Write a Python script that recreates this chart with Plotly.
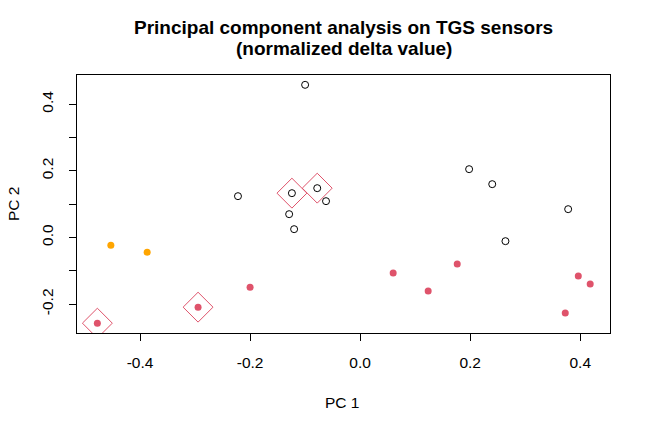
import plotly.graph_objects as go

# Data
pc1_black = [-0.100, -0.222, -0.124, -0.078, -0.062, -0.129, -0.120, 0.198, 0.240, 0.378, 0.264]
pc2_black = [0.458, 0.124, 0.133, 0.148, 0.109, 0.070, 0.025, 0.205, 0.160, 0.085, -0.011]

pc1_orange = [-0.453, -0.387]
pc2_orange = [-0.023, -0.044]

pc1_red = [-0.4775, -0.2945, -0.200, 0.060, 0.1236, 0.1764, 0.3727, 0.3964, 0.418]
pc2_red = [-0.257, -0.209, -0.149, -0.1065, -0.1605, -0.0795, -0.2265, -0.1155, -0.1395]

# highlighted points (diamonds)
pc1_hl = [-0.124, -0.078, -0.4775, -0.2945]
pc2_hl = [0.133, 0.148, -0.257, -0.209]

x_ticks = [-0.4, -0.2, 0.0, 0.2, 0.4]
x_ticklabels = ["-0.4", "-0.2", "0.0", "0.2", "0.4"]
y_ticks = [-0.2, -0.1, 0.0, 0.1, 0.2, 0.3, 0.4]
y_ticklabels = ["-0.2", "", "0.0", "", "0.2", "", "0.4"]

title_line1 = "Principal component analysis on TGS sensors"
title_line2 = "(normalized delta value)"
x_label = "PC 1"
y_label = "PC 2"

RED = "#DF536B"
ORANGE = "#FFA500"
FONT = "Liberation Sans, Arial, sans-serif"
TICK_SIZE = 15.5

fig = go.Figure()
fig.add_trace(go.Scatter(x=pc1_black, y=pc2_black, mode="markers",
                         marker=dict(symbol="circle-open", size=7, color="black",
                                     line=dict(width=1, color="black")),
                         cliponaxis=False, showlegend=False))
fig.add_trace(go.Scatter(x=pc1_orange, y=pc2_orange, mode="markers",
                         marker=dict(symbol="circle", size=7, color=ORANGE),
                         cliponaxis=False, showlegend=False))
fig.add_trace(go.Scatter(x=pc1_red, y=pc2_red, mode="markers",
                         marker=dict(symbol="circle", size=7, color=RED),
                         cliponaxis=False, showlegend=False))
fig.add_trace(go.Scatter(x=pc1_hl, y=pc2_hl, mode="markers",
                         marker=dict(symbol="diamond-open", size=23, color=RED,
                                     line=dict(width=1, color=RED)),
                         cliponaxis=True, showlegend=False))

axis_common = dict(showline=True, mirror=True, linecolor="black", linewidth=1,
                   ticks="outside", ticklen=7, tickwidth=1, tickcolor="black",
                   showgrid=False, zeroline=False,
                   tickfont=dict(family=FONT, size=TICK_SIZE, color="black"))

fig.update_xaxes(range=[-0.5145, 0.454], tickvals=x_ticks, ticktext=x_ticklabels,
                 ticklabelstandoff=8, **axis_common)
fig.update_yaxes(range=[-0.2865, 0.4875], tickvals=y_ticks, ticktext=y_ticklabels,
                 tickangle=-90, ticklabelstandoff=10, **axis_common)

plot_top, plot_bottom, plot_left = 75, 333, 77
plot_h = plot_bottom - plot_top

fig.add_annotation(text="<b>" + title_line1 + "</b>", xref="paper", yref="paper",
                   x=0.5, y=1, yshift=plot_top - 27, showarrow=False, yanchor="middle",
                   font=dict(family=FONT, size=19, color="black"))
fig.add_annotation(text="<b>" + title_line2 + "</b>", xref="paper", yref="paper",
                   x=0.5, y=1, yshift=plot_top - 48, showarrow=False, yanchor="middle",
                   font=dict(family=FONT, size=19, color="black"))
fig.add_annotation(text=x_label, xref="paper", yref="paper",
                   x=0.5, y=0, yshift=-(402 - plot_bottom), xshift=-2,
                   showarrow=False, yanchor="middle",
                   font=dict(family=FONT, size=TICK_SIZE, color="black"))
fig.add_annotation(text=y_label, xref="paper", yref="paper",
                   x=0, xshift=-(plot_left - 13), y=(plot_bottom - 204) / plot_h,
                   textangle=-90, showarrow=False, xanchor="center", yanchor="middle",
                   font=dict(family=FONT, size=TICK_SIZE, color="black"))

fig.update_layout(width=645, height=428,
                  margin=dict(l=77, r=35, t=75, b=95, autoexpand=False),
                  plot_bgcolor="white", paper_bgcolor="white",
                  font=dict(family=FONT, color="black"))

fig.write_html("out.html")
